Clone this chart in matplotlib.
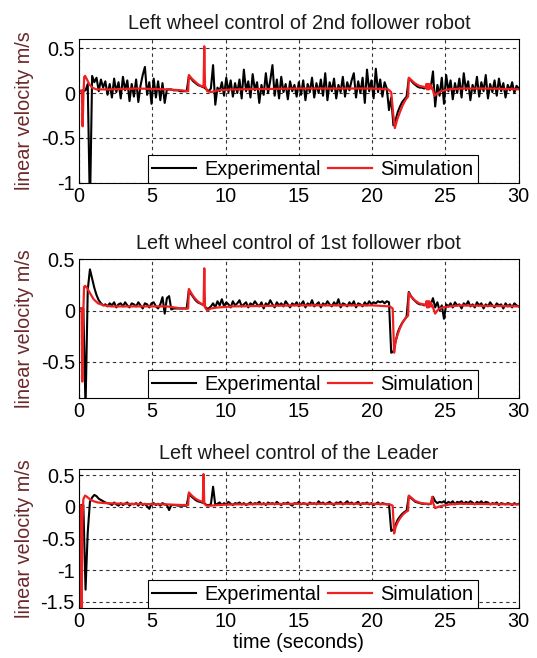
import matplotlib
matplotlib.use("Agg")
import matplotlib.pyplot as plt
import numpy as np

plt.rcParams['font.family'] = ['Liberation Sans', 'DejaVu Sans']

# sample time of the experimental logs (s)
DT = 0.15

# 2nd follower robot, experimental (one value per DT)
exp_f2 = [0.02, 0.02, 0.02, 0.03, 0.10, -1.30, 0.19, 0.12, 0.17, 0.02,
          0.15, 0.06, 0.13, -0.02, 0.10, -0.05, 0.16, 0.01, 0.12, -0.06,
          0.18, 0.03, 0.14, -0.09, 0.10, -0.04, 0.15, -0.10, 0.08, 0.20,
          0.29, -0.02, 0.12, -0.12, 0.16, -0.05, 0.13, -0.08, 0.11, -0.11,
          0.04, 0.04, 0.04, 0.03, 0.03, 0.03, 0.02, 0.02, 0.02, 0.02,
          0.19, 0.16, 0.13, 0.11, 0.09, 0.08, 0.07, 0.06, 0.04, 0.02,
          0.05, 0.31, -0.13, 0.06, 0.02, 0.12, -0.03, 0.17, 0.01, 0.14,
          -0.04, 0.11, 0.00, 0.15, -0.06, 0.26, 0.02, 0.13, -0.05, 0.21,
          0.03, 0.12, -0.11, 0.09, -0.02, 0.22, 0.00, 0.14, 0.31, -0.03,
          0.15, -0.06, 0.18, 0.01, 0.10, -0.07, 0.13, 0.02, 0.09, -0.04,
          0.12, -0.02, 0.14, -0.08, 0.10, 0.01, 0.17, -0.05, 0.11, 0.00,
          0.15, -0.03, 0.22, -0.08, 0.12, 0.02, 0.16, -0.06, 0.09, 0.01,
          0.18, -0.04, 0.12, 0.03, 0.14, 0.22, -0.05, 0.13, 0.00, 0.17,
          -0.11, 0.26, 0.02, 0.14, -0.06, 0.27, 0.01, 0.15, -0.04, 0.12,
          0.05, -0.19, -0.05, -0.36, -0.30, -0.21, -0.15, -0.10, -0.07, -0.04,
          0.16, 0.14, 0.11, 0.09, 0.07, 0.06, 0.06, 0.05, 0.06, 0.07,
          0.06, 0.24, -0.15, 0.09, -0.03, 0.17, -0.12, 0.20, 0.02, 0.14,
          -0.07, 0.11, 0.00, 0.16, -0.05, 0.22, 0.03, 0.13, -0.08, 0.09,
          0.01, 0.18, -0.04, 0.12, 0.02, 0.20, -0.06, 0.10, 0.01, 0.14,
          -0.03, 0.16, 0.02, 0.11, -0.05, 0.09, 0.03, 0.12, 0.00, 0.08,
          0.05]

# 1st follower robot, experimental
exp_f1 = [0.02, 0.02, 0.02, -0.95, 0.20, 0.40, 0.31, 0.22, 0.15, 0.10,
          0.07, 0.05, 0.06, 0.04, 0.07, 0.05, 0.08, 0.03, 0.06, 0.07,
          0.04, 0.08, 0.05, 0.03, 0.07, 0.06, 0.04, 0.08, 0.05, 0.02,
          0.07, 0.06, 0.03, 0.07, 0.08, 0.04, 0.02, 0.06, 0.13, -0.03,
          0.12, 0.14, 0.01, 0.02, 0.02, 0.02, 0.02, 0.02, 0.02, 0.02,
          0.20, 0.16, 0.13, 0.10, 0.08, 0.07, 0.06, 0.05, 0.02, 0.02,
          0.04,
          0.07, 0.03, 0.09, 0.05, 0.11, 0.04, 0.08, 0.06, 0.03, 0.09,
          0.05, 0.07, 0.10, 0.04, 0.06, 0.08, 0.03, 0.07, 0.05, 0.09,
          0.06, 0.04, 0.08, 0.02, 0.07, 0.05, 0.10, 0.06, 0.03, 0.08,
          0.05, 0.07, 0.04, 0.09, 0.06, 0.03, 0.07, 0.05, 0.08, 0.04,
          0.06, 0.09, 0.03, 0.07, 0.05, 0.10, 0.04, 0.06, 0.08, 0.03,
          0.07, 0.05, 0.09, 0.06, 0.04, 0.08, 0.05, 0.11, 0.03, 0.07,
          0.06, 0.04, 0.08, 0.05, 0.09, 0.03, 0.07, 0.06, 0.04, 0.08,
          0.05, 0.09, 0.06, 0.08, 0.07, 0.09, 0.08, 0.09, 0.07,
          0.09, 0.08, -0.41, -0.40, -0.30, -0.21, -0.16, -0.12, -0.09, -0.06,
          0.18, 0.14, 0.11, 0.09, 0.07, 0.06, 0.06, 0.05, 0.07, 0.08, 0.06,
          0.12, 0.03, 0.08, 0.00, 0.05, -0.08, 0.06,
          0.04, 0.07, 0.03, 0.08, 0.05, 0.06, 0.02, 0.07, 0.05, 0.09,
          0.04, 0.06, 0.03, 0.08, 0.05, 0.07, 0.02, 0.06, 0.04, 0.08,
          0.05, 0.03, 0.07, 0.05, 0.06, 0.02, 0.07, 0.04, 0.06, 0.03,
          0.07, 0.05, 0.04]

# Leader, experimental
exp_ld = [0.03, 0.03, 0.03, -1.31, -0.40, 0.08, 0.15, 0.19, 0.17, 0.13,
          0.11, 0.09, 0.07, 0.06,
          0.05, 0.03, 0.07, 0.04, 0.02, 0.06, 0.03, 0.05, 0.07, 0.02,
          0.05, 0.04, 0.06, 0.02, 0.07, 0.03, 0.05, 0.01, -0.03, 0.05,
          0.06, 0.03, 0.05, 0.02, 0.06, 0.04, 0.03,
          -0.05, 0.03, 0.03, 0.03, 0.02, 0.02, 0.02, 0.02, 0.02,
          0.21, 0.17, 0.14, 0.11, 0.09, 0.08, 0.07, 0.06, 0.03, 0.03,
          0.04, 0.32, 0.03,
          0.05, 0.07, 0.03, 0.06, 0.04, 0.08, 0.05, 0.03, 0.06, 0.05,
          0.07, 0.04, 0.06, 0.03, 0.05, 0.07, 0.04, 0.06, 0.05, 0.08,
          0.04, 0.06, 0.03, 0.07, 0.05, 0.06, 0.04, 0.08, 0.05, 0.03,
          0.06, 0.05, 0.07, 0.04, 0.02, 0.06, 0.05, 0.08, 0.04, 0.06,
          0.05, 0.03, 0.07, 0.05, 0.06, 0.04, 0.09, 0.05, 0.07, 0.04,
          0.06, 0.08, 0.05, 0.03, 0.07, 0.06, 0.08, 0.04, 0.06, 0.09,
          0.05, 0.07, 0.04, 0.06, 0.08, 0.03, 0.06, 0.05, 0.07, 0.04,
          0.06, 0.03, 0.05, 0.07, 0.04, 0.06, 0.05, 0.04,
          0.04, -0.38, -0.36, -0.28, -0.20, -0.15, -0.11, -0.08, -0.06,
          0.17, 0.14, 0.11, 0.08, 0.07, 0.06, 0.05, 0.05, 0.05, 0.04, 0.05,
          0.16, 0.09, 0.06, 0.08,
          0.07, 0.09, 0.05, 0.08, 0.06, 0.09, 0.04, 0.08, 0.07, 0.09,
          0.05, 0.08, 0.06, 0.09, 0.07, 0.04, 0.08, 0.06, 0.09, 0.05,
          0.08, 0.07, 0.04, 0.06, 0.05, 0.07, 0.03, 0.06, 0.05, 0.04,
          0.06, 0.05, 0.03, 0.06, 0.04, 0.05]

# simulation traces (time, value)
sim_f2_t = [0, 0.2, 0.25, 0.3, 0.36, 0.42, 0.55, 0.7, 0.9, 1.2,
            2, 4, 6, 7.0, 7.45, 7.5, 7.7, 7.9, 8.1, 8.3,
            8.5, 8.55, 8.6, 8.75, 9.0, 9.5, 10.5, 15, 20, 21.1,
            21.3, 21.45, 21.55, 21.7, 21.9, 22.1, 22.3, 22.45, 22.5, 22.7,
            22.9, 23.2, 23.5, 23.65, 23.7, 23.75, 23.8, 23.85, 23.9, 23.95,
            24.0, 24.05, 24.1, 24.25, 24.4, 24.7, 25.2, 26, 28, 30]
sim_f2_v = [0.02, 0.03, -0.37, -0.05, 0.18, 0.19, 0.15, 0.10, 0.06, 0.04,
            0.04, 0.05, 0.04, 0.03, 0.02, 0.20, 0.16, 0.13, 0.10, 0.08,
            0.07, 0.52, 0.08, 0.02, 0.01, 0.03, 0.04, 0.05, 0.05, 0.04,
            0.01, -0.25, -0.39, -0.30, -0.21, -0.13, -0.07, -0.04, 0.17, 0.14,
            0.11, 0.08, 0.07, 0.06, 0.10, 0.04, 0.10, 0.04, 0.10, 0.05,
            0.09, 0.05, 0.06, -0.03, -0.01, 0.02, 0.04, 0.05, 0.05, 0.04]

sim_f1_t = [0, 0.18, 0.23, 0.28, 0.35, 0.42, 0.55, 0.75, 1.0, 1.3,
            1.7, 2.2, 4, 6, 7.0, 7.45, 7.5, 7.7, 7.9, 8.1,
            8.3, 8.5, 8.55, 8.6, 8.75, 9.0, 9.5, 10.5, 15, 20,
            21.2, 21.4, 21.5, 21.6, 21.75, 21.9, 22.1, 22.3, 22.45, 22.5,
            22.7, 22.9, 23.2, 23.5, 23.65, 23.7, 23.75, 23.8, 23.85, 23.9,
            23.95, 24.0, 24.05, 24.1, 24.3, 24.5, 24.8, 25.3, 26, 30]
sim_f1_v = [0.02, 0.02, -0.69, -0.1, 0.23, 0.24, 0.22, 0.17, 0.11, 0.07,
            0.05, 0.04, 0.04, 0.04, 0.02, 0.02, 0.21, 0.16, 0.12, 0.09,
            0.07, 0.05, 0.41, 0.03, 0.0, 0.02, 0.03, 0.04, 0.05, 0.05,
            0.04, 0.02, -0.41, -0.30, -0.23, -0.17, -0.11, -0.07, -0.05, 0.17,
            0.13, 0.10, 0.07, 0.06, 0.05, 0.09, 0.03, 0.09, 0.03, 0.09,
            0.04, 0.08, 0.04, 0.05, -0.03, 0.01, 0.03, 0.04, 0.05, 0.04]

sim_ld_t = [0, 0.12, 0.18, 0.24, 0.3, 0.42, 0.55, 0.75, 1.0, 1.3,
            1.8, 3, 6, 7.0, 7.45, 7.5, 7.7, 7.9, 8.1, 8.3,
            8.45, 8.5, 8.55, 8.7, 9.0, 9.5, 10.5, 15, 20, 21.2,
            21.4, 21.5, 21.6, 21.75, 21.9, 22.1, 22.3, 22.45, 22.5, 22.7,
            22.9, 23.2, 23.6, 24.0, 24.1, 24.15, 24.3, 24.5, 24.8, 25.3,
            26, 30]
sim_ld_v = [0.03, 0.03, -1.65, -0.2, 0.12, 0.18, 0.16, 0.12, 0.09, 0.07,
            0.06, 0.05, 0.04, 0.03, 0.03, 0.23, 0.18, 0.14, 0.11, 0.09,
            0.08, 0.52, 0.05, 0.02, 0.02, 0.03, 0.04, 0.05, 0.05, 0.04,
            0.02, -0.42, -0.32, -0.24, -0.18, -0.12, -0.08, -0.06, 0.18, 0.14,
            0.10, 0.07, 0.05, 0.05, 0.16, 0.07, -0.02, 0.0, 0.02, 0.04,
            0.05, 0.04]

titles = ["Left wheel control of 2nd follower robot",
          "Left wheel control of 1st follower rbot",
          "Left wheel control of the Leader"]
ylims = [(-1, 0.6), (-0.85, 0.5), (-1.6, 0.6)]
yticks = [[-1, -0.5, 0, 0.5], [-0.5, 0, 0.5], [-1.5, -1, -0.5, 0, 0.5]]
yticklabels = [["-1", "-0.5", "0", "0.5"], ["-0.5", "0", "0.5"],
               ["-1.5", "-1", "-0.5", "0", "0.5"]]
xticks = [0, 5, 10, 15, 20, 25, 30]
# axes boxes in figure fractions: left, bottom, width, height
boxes = [[0.147, 0.7219, 0.819, 0.2188],
         [0.147, 0.3951, 0.819, 0.2112],
         [0.147, 0.0760, 0.819, 0.2112]]

exps = [exp_f2, exp_f1, exp_ld]
sims = [(sim_f2_t, sim_f2_v), (sim_f1_t, sim_f1_v), (sim_ld_t, sim_ld_v)]

fig = plt.figure(figsize=(5.37, 6.58), dpi=100)
FS = 14.3

for i in range(3):
    ax = fig.add_axes(boxes[i])
    ex = np.array(exps[i])
    t_ex = np.arange(len(ex)) * DT
    ax.plot(t_ex, ex, color='black', lw=1.5, label='Experimental')
    ax.plot(sims[i][0], sims[i][1], color='#f02020', lw=1.6, label='Simulation')

    ax.set_xlim(0, 30)
    ax.set_ylim(*ylims[i])
    ax.set_xticks(xticks)
    ax.set_yticks(yticks[i])
    ax.set_yticklabels(yticklabels[i])
    ax.tick_params(direction='in', length=3, labelsize=FS, pad=3)
    ax.grid(True, color='0.2', linestyle=(0, (3, 3)), lw=0.8)
    for s in ax.spines.values():
        s.set_linewidth(0.8)
    ax.set_title(titles[i], fontsize=FS, color='#1a1a1a', pad=7)
    ax.set_ylabel("linear velocity m/s", fontsize=FS, color='#6b2a2a', labelpad=5)

    leg = ax.legend(loc='lower left', bbox_to_anchor=(0.157, 0.0), ncol=2,
                    fontsize=FS, frameon=True, fancybox=False, framealpha=1,
                    borderaxespad=0, handlelength=2.2, handletextpad=0.4,
                    columnspacing=0.4, borderpad=0.22)
    leg.get_frame().set_edgecolor('black')
    leg.get_frame().set_linewidth(0.8)

    if i == 2:
        ax.set_xlabel("time (seconds)", fontsize=FS, labelpad=1)

fig.savefig("out.png", dpi=100)
